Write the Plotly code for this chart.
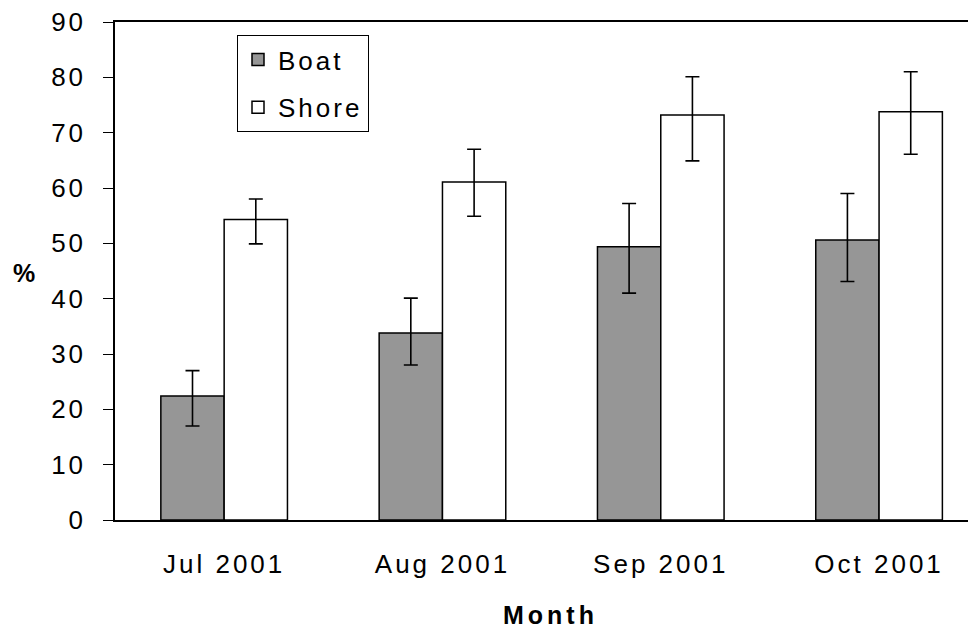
import plotly.graph_objects as go

months = ["Jul 2001", "Aug 2001", "Sep 2001", "Oct 2001"]
boat = [22.4, 33.8, 49.4, 50.6]
boat_hi = [27.0, 40.1, 57.2, 59.0]
boat_lo = [17.0, 28.0, 41.0, 43.1]
shore = [54.3, 61.1, 73.2, 73.8]
shore_hi = [58.0, 67.0, 80.1, 81.0]
shore_lo = [49.9, 54.9, 64.9, 66.1]
y_ticks = [0, 10, 20, 30, 40, 50, 60, 70, 80, 90]

FONT = "Liberation Sans, Arial, sans-serif"
FS = 26


def sp(text, px=3):
    return '<span style="letter-spacing:%dpx">%s</span>' % (px, text)


def err(vals, hi, lo):
    return dict(type="data", symmetric=False,
                array=[h - v for h, v in zip(hi, vals)],
                arrayminus=[v - l for v, l in zip(vals, lo)],
                color="black", thickness=1.6, width=7)


fig = go.Figure()
fig.add_trace(go.Bar(x=months, y=boat, name=sp("Boat"), legendgroup="b",
                     marker=dict(color="#969696", line=dict(color="black", width=1.5)),
                     error_y=err(boat, boat_hi, boat_lo)))
fig.add_trace(go.Bar(x=months, y=shore, name=sp("Shore"), legendgroup="s",
                     marker=dict(color="white", line=dict(color="black", width=1.5)),
                     error_y=err(shore, shore_hi, shore_lo)))

W, H = 968, 623
L, T, B = 107, 14, 111
PW = W - L
PH = H - T - B

fig.update_layout(
    width=W, height=H,
    margin=dict(l=L, r=0, t=T, b=B),
    paper_bgcolor="white", plot_bgcolor="white",
    font=dict(family=FONT, size=FS, color="black"),
    barmode="group", bargap=0.42, bargroupgap=0,
    showlegend=True,
    legend=dict(x=(229 - L) / PW, y=1 - (27 - T) / PH, xanchor="left", yanchor="top",
                bordercolor="black", borderwidth=1, bgcolor="white",
                font=dict(size=FS), tracegroupgap=11, itemwidth=30),
    xaxis=dict(range=[-0.5, 3.444], showline=True, linecolor="black", linewidth=2,
               mirror=True, ticks="", showgrid=False, ticklabelstandoff=20,
               tickmode="array", tickvals=months, ticktext=[sp(m) for m in months],
               tickfont=dict(size=FS)),
    yaxis=dict(range=[0, 90], showline=True, linecolor="black", linewidth=1.5,
               tickmode="array", tickvals=y_ticks, ticktext=[sp(str(v)) for v in y_ticks],
               ticks="outside", ticklen=10, tickcolor="black", tickwidth=1,
               showgrid=False, zeroline=False, ticklabelstandoff=12,
               ticklabeloverflow="allow", tickfont=dict(size=FS)),
    annotations=[
        dict(text="<b>%</b>", x=(16 - L) / PW, y=(512 - 265) / PH, xref="paper", yref="paper",
             xanchor="center", yanchor="middle", showarrow=False, font=dict(size=25)),
        dict(text="<b>" + sp("Month", 4) + "</b>", x=(542 - L) / PW, y=-(H - T - PH - 0.5) / PH,
             xref="paper", yref="paper", xanchor="center", yanchor="bottom",
             showarrow=False, font=dict(size=25)),
    ],
)

fig.write_html("out.html")
